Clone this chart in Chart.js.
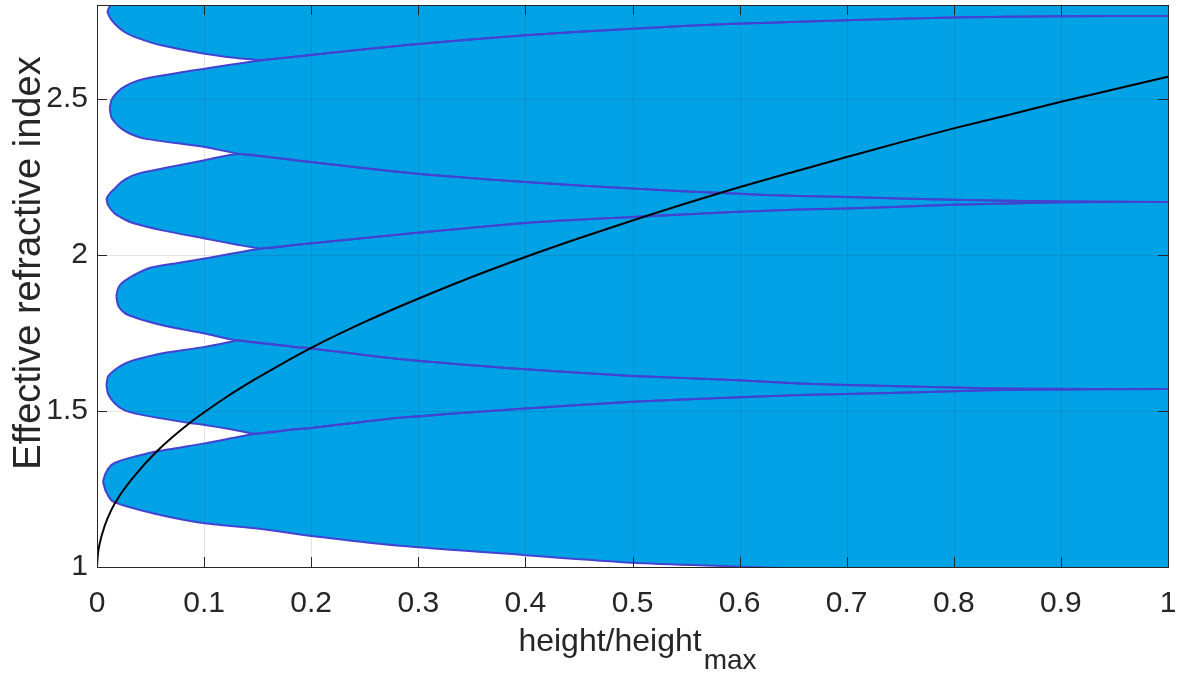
<!DOCTYPE html>
<html>
<head>
<meta charset="utf-8">
<script src="https://cdn.jsdelivr.net/npm/chart.js@4.4.1/dist/chart.umd.min.js"></script>
<style>
  html, body { margin: 0; padding: 0; background: #fff; }
  #wrap { width: 1189px; height: 673px; position: relative; }
</style>
</head>
<body>
<div id="wrap"><canvas id="bands"></canvas></div>
<script>
// axis ticks
const xTicks = [0, 0.1, 0.2, 0.3, 0.4, 0.5, 0.6, 0.7, 0.8, 0.9, 1];
const yTicks = [1, 1.5, 2, 2.5];

// band A (tip near 1.27)
const aUpperX = [0.0056, 0.008, 0.0134, 0.02, 0.029, 0.0539, 0.1006, 0.147, 0.1846, 0.2, 0.2826, 0.4, 0.5, 0.594, 0.656, 0.7, 0.799, 0.865, 1.0];
const aUpperY = [1.273, 1.300, 1.3265, 1.338, 1.348, 1.369, 1.396, 1.426, 1.441, 1.445, 1.478, 1.508, 1.529, 1.543, 1.551, 1.554, 1.563, 1.568, 1.570];
const aLowerX = [0.0056, 0.008, 0.0134, 0.02, 0.029, 0.06, 0.1006, 0.1535, 0.2, 0.2826, 0.4, 0.5, 0.594, 0.65, 0.8, 1.0];
const aLowerY = [1.273, 1.245, 1.214, 1.203, 1.193, 1.166, 1.140, 1.122, 1.099, 1.068, 1.038, 1.014, 1.002, 0.995, 0.978, 0.960];

// band B (tip near 1.58), merges into C lower / A upper
const bUpperX = [0.0088, 0.0103, 0.0165, 0.025, 0.035, 0.060, 0.1006, 0.1286, 0.131];
const bUpperY = [1.583, 1.610, 1.631, 1.650, 1.663, 1.684, 1.705, 1.724, 1.726];
const bLowerX = [0.0088, 0.0103, 0.0165, 0.025, 0.035, 0.060, 0.085, 0.1006, 0.1286, 0.148];
const bLowerY = [1.583, 1.555, 1.524, 1.503, 1.492, 1.476, 1.462, 1.455, 1.439, 1.427];

// band C (tip near 1.87)
const cUpperX = [0.018, 0.0196, 0.0228, 0.029, 0.0476, 0.0756, 0.1006, 0.1535, 0.1846, 0.292, 0.4, 0.5, 0.594, 0.656, 0.7, 0.799, 0.9, 1.0];
const cUpperY = [1.867, 1.892, 1.908, 1.924, 1.956, 1.974, 1.988, 2.020, 2.031, 2.068, 2.102, 2.121, 2.137, 2.145, 2.148, 2.160, 2.168, 2.169];
const cLowerX = [0.018, 0.0196, 0.0228, 0.029, 0.060, 0.1006, 0.1286, 0.1846, 0.2, 0.2826, 0.4, 0.5, 0.594, 0.656, 0.7, 0.799, 0.865, 1.0];
const cLowerY = [1.867, 1.839, 1.823, 1.807, 1.775, 1.748, 1.727, 1.705, 1.700, 1.666, 1.633, 1.612, 1.599, 1.588, 1.583, 1.575, 1.571, 1.570];

// band D (tip near 2.18), merges into E lower / C upper
const dUpperX = [0.0088, 0.0119, 0.0165, 0.0228, 0.032, 0.0445, 0.1006, 0.133];
const dUpperY = [2.180, 2.196, 2.212, 2.233, 2.252, 2.265, 2.303, 2.323];
const dLowerX = [0.0088, 0.0103, 0.0165, 0.0259, 0.035, 0.060, 0.1006, 0.1286, 0.1535];
const dLowerY = [2.180, 2.159, 2.132, 2.113, 2.100, 2.079, 2.052, 2.034, 2.020];

// band E (tip near 2.47)
const eUpperX = [0.0119, 0.0134, 0.0165, 0.0228, 0.032, 0.0445, 0.1006, 0.1535, 0.1846, 0.292, 0.4, 0.5, 0.594, 0.656, 0.7, 0.799, 0.9, 1.0];
const eUpperY = [2.468, 2.495, 2.511, 2.532, 2.550, 2.564, 2.596, 2.623, 2.634, 2.673, 2.703, 2.724, 2.740, 2.746, 2.751, 2.760, 2.764, 2.765];
const eLowerX = [0.0119, 0.0134, 0.0165, 0.0228, 0.032, 0.0445, 0.1006, 0.1317, 0.1846, 0.292, 0.4, 0.5, 0.594, 0.656, 0.7, 0.799, 0.9, 1.0];
const eLowerY = [2.468, 2.441, 2.425, 2.404, 2.386, 2.372, 2.345, 2.324, 2.303, 2.262, 2.233, 2.212, 2.196, 2.188, 2.185, 2.176, 2.171, 2.169];

// band F (tip near 2.78), merges into E upper
const fUpperX = [0.0097, 0.011, 0.0135, 0.02, 0.05, 0.2, 1.0];
const fUpperY = [2.778, 2.790, 2.805, 2.830, 2.880, 2.950, 3.050];
const fLowerX = [0.0097, 0.012, 0.0165, 0.025, 0.035, 0.060, 0.1006, 0.1286, 0.152];
const fLowerY = [2.778, 2.760, 2.740, 2.715, 2.698, 2.671, 2.644, 2.631, 2.623];

// black curve
const curveX = [0, 0.0008, 0.0025, 0.0072, 0.0134, 0.0212, 0.035, 0.0555, 0.088, 0.122, 0.147, 0.2, 0.25, 0.292, 0.35, 0.4, 0.45, 0.5, 0.581, 0.656, 0.7, 0.75, 0.799, 0.85, 0.9, 0.95, 1.0];
const curveY = [1.0, 1.040, 1.075, 1.132, 1.183, 1.229, 1.292, 1.369, 1.465, 1.547, 1.600, 1.702, 1.785, 1.848, 1.929, 1.993, 2.053, 2.110, 2.197, 2.271, 2.313, 2.360, 2.404, 2.447, 2.490, 2.530, 2.570];

const FILL = '#00A2E6';
const EDGE = '#4343D2';
const AXIS = '#262626';
const FONT = "'Liberation Sans', Arial, Helvetica, sans-serif";

function pts(xs, ys) {
    return xs.map((x, i) => ({ x: x, y: ys[i] }));
}

// a merged edge: own points, then the line it joins past the merge point
function joined(xs, ys, nextXs, nextYs) {
    const last = xs[xs.length - 1];
    const out = pts(xs, ys);
    nextXs.forEach((x, i) => {
        if (x > last) out.push({ x: x, y: nextYs[i] });
    });
    return out;
}

function edge(data, fillNext) {
    return {
        data: data,
        showLine: true,
        borderColor: EDGE,
        borderWidth: 2,
        pointRadius: 0,
        tension: 0.25,
        backgroundColor: FILL,
        fill: fillNext ? '+1' : false,
        clip: 0
    };
}

const datasets = [
    {
        data: pts(curveX, curveY),
        showLine: true,
        borderColor: '#000000',
        borderWidth: 2,
        pointRadius: 0,
        cubicInterpolationMode: 'monotone',
        fill: false,
        clip: 0
    },
    edge(pts(aUpperX, aUpperY), true),
    edge(pts(aLowerX, aLowerY), false),
    edge(joined(bUpperX, bUpperY, cLowerX, cLowerY), true),
    edge(joined(bLowerX, bLowerY, aUpperX, aUpperY), false),
    edge(pts(cUpperX, cUpperY), true),
    edge(pts(cLowerX, cLowerY), false),
    edge(joined(dUpperX, dUpperY, eLowerX, eLowerY), true),
    edge(joined(dLowerX, dLowerY, cUpperX, cUpperY), false),
    edge(pts(eUpperX, eUpperY), true),
    edge(pts(eLowerX, eLowerY), false),
    edge(pts(fUpperX, fUpperY), true),
    edge(joined(fLowerX, fLowerY, eUpperX, eUpperY), false)
];

// grid over the fills, box, inward ticks and axis titles
const frame = {
    id: 'frame',
    beforeDatasetsDraw(chart) {
        const { ctx, chartArea: a, scales: { x, y } } = chart;
        ctx.save();
        ctx.strokeStyle = 'rgba(38,38,38,0.13)';
        ctx.lineWidth = 1;
        ctx.beginPath();
        xTicks.forEach(v => {
            const px = Math.round(x.getPixelForValue(v)) + 0.5;
            ctx.moveTo(px, a.top);
            ctx.lineTo(px, a.bottom);
        });
        yTicks.forEach(v => {
            const py = Math.round(y.getPixelForValue(v)) + 0.5;
            ctx.moveTo(a.left, py);
            ctx.lineTo(a.right, py);
        });
        ctx.stroke();
        ctx.restore();
    },
    afterDraw(chart) {
        const { ctx, chartArea: a, scales: { x, y } } = chart;
        const len = 10;
        ctx.save();
        ctx.strokeStyle = AXIS;
        ctx.lineWidth = 1;
        ctx.beginPath();
        xTicks.forEach(v => {
            const px = Math.round(x.getPixelForValue(v)) + 0.5;
            ctx.moveTo(px, a.bottom);
            ctx.lineTo(px, a.bottom - len);
            ctx.moveTo(px, a.top);
            ctx.lineTo(px, a.top + len);
        });
        yTicks.forEach(v => {
            const py = Math.round(y.getPixelForValue(v)) + 0.5;
            ctx.moveTo(a.left, py);
            ctx.lineTo(a.left + len, py);
            ctx.moveTo(a.right, py);
            ctx.lineTo(a.right - len, py);
        });
        ctx.stroke();
        ctx.strokeRect(Math.round(a.left) + 0.5, Math.round(a.top) + 0.5,
            Math.round(a.right - a.left), Math.round(a.bottom - a.top));

        ctx.fillStyle = AXIS;

        // x axis title with subscript
        const main = 'height/height';
        const sub = 'max';
        ctx.textBaseline = 'alphabetic';
        ctx.textAlign = 'left';
        ctx.font = '32px ' + FONT;
        const w1 = ctx.measureText(main).width;
        ctx.font = '28px ' + FONT;
        const w2 = ctx.measureText(sub).width;
        const start = (a.left + a.right) / 2 - (w1 + w2) / 2 + 4;
        ctx.font = '32px ' + FONT;
        ctx.fillText(main, start, 651);
        ctx.font = '28px ' + FONT;
        ctx.fillText(sub, start + w1 + 2, 669);

        // y axis title
        ctx.translate(30, 263);
        ctx.rotate(-Math.PI / 2);
        ctx.textAlign = 'center';
        ctx.textBaseline = 'middle';
        ctx.font = '38px ' + FONT;
        ctx.fillText('Effective refractive index', 0, 0);
        ctx.restore();
    }
};

new Chart(document.getElementById('bands').getContext('2d'), {
    type: 'scatter',
    data: { datasets: datasets },
    options: {
        responsive: true,
        maintainAspectRatio: false,
        animation: false,
        layout: { autoPadding: false, padding: { left: 0, right: 21, top: 5, bottom: 0 } },
        plugins: {
            legend: { display: false },
            tooltip: { enabled: false },
            filler: { drawTime: 'beforeDatasetsDraw' }
        },
        scales: {
            x: {
                type: 'linear',
                min: 0,
                max: 1,
                afterBuildTicks: s => { s.ticks = xTicks.map(v => ({ value: v })); },
                afterFit: s => {
                    s.height = 106;
                    s.paddingLeft = 0;
                    s.paddingRight = 0;
                },
                grid: { display: false, drawTicks: false },
                border: { display: false },
                ticks: {
                    color: AXIS,
                    padding: 19,
                    maxRotation: 0,
                    font: { size: 30, family: FONT },
                    callback: v => String(v)
                }
            },
            y: {
                type: 'linear',
                min: 1,
                max: 2.8,
                afterBuildTicks: s => { s.ticks = yTicks.map(v => ({ value: v })); },
                afterFit: s => {
                    s.width = 97;
                    s.paddingTop = 0;
                    s.paddingBottom = 0;
                },
                grid: { display: false, drawTicks: false },
                border: { display: false },
                ticks: {
                    color: AXIS,
                    padding: 9,
                    font: { size: 30, family: FONT },
                    callback: v => String(v)
                }
            }
        }
    },
    plugins: [frame]
});
</script>
</body>
</html>
